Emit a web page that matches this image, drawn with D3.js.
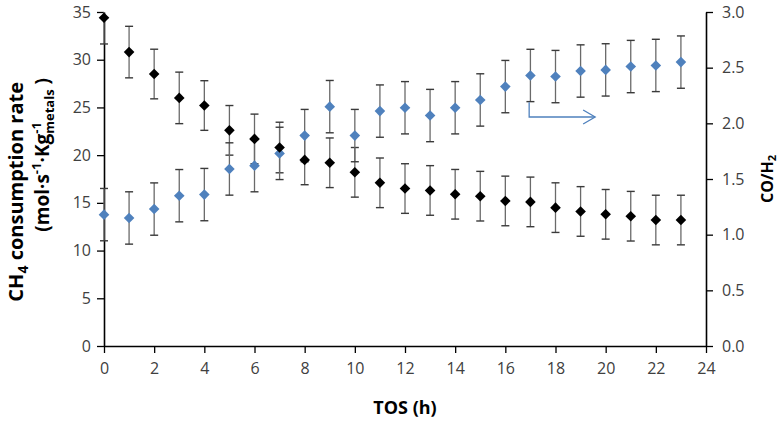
<!DOCTYPE html>
<html>
<head>
<meta charset="utf-8">
<script src="https://cdn.jsdelivr.net/npm/d3@7"></script>
<style>
  html, body { margin: 0; padding: 0; background: #fff; }
  svg { display: block; }
</style>
</head>
<body>
<svg id="chart" width="782" height="425"></svg>
<script>
// ---- data ----
const hours = [0,1,2,3,4,5,6,7,8,9,10,11,12,13,14,15,16,17,18,19,20,21,22,23];
const ch4Rate = [34.4,30.8,28.5,26.0,25.2,22.6,21.7,20.8,19.5,19.2,18.2,17.1,16.5,16.3,15.9,15.7,15.2,15.1,14.5,14.1,13.8,13.6,13.2,13.2];
const ch4Err  = [2.75,2.7,2.6,2.7,2.6,2.6,2.6,2.65,2.6,2.6,2.6,2.6,2.6,2.6,2.6,2.6,2.6,2.6,2.6,2.6,2.6,2.6,2.6,2.6];
const coH2    = [1.18,1.15,1.23,1.35,1.36,1.59,1.62,1.73,1.89,2.15,1.89,2.11,2.14,2.07,2.14,2.21,2.33,2.43,2.42,2.47,2.48,2.51,2.52,2.55];
const coH2Err = [0.235,0.235,0.235,0.235,0.235,0.235,0.235,0.235,0.235,0.235,0.235,0.235,0.235,0.235,0.235,0.235,0.235,0.235,0.235,0.235,0.235,0.235,0.235,0.235];
const xTicks = [0,2,4,6,8,10,12,14,16,18,20,22,24];
const yLeftTicks = [0,5,10,15,20,25,30,35];
const yRightTicks = [0,0.5,1.0,1.5,2.0,2.5,3.0];
// arrow annotation (points to right axis), in data units: [hour, CO/H2]
const arrowPath = [[16.95, 2.19], [16.95, 2.057], [19.58, 2.057]];

// ---- layout ----
const W = 782, H = 425;
const m = { left: 104, right: 76, top: 12, bottom: 79 };
const svg = d3.select("#chart");
const FONT = "'Open Sans', 'Liberation Sans', sans-serif";

const x = d3.scaleLinear().domain([0, 24]).range([m.left, W - m.right]);
const yL = d3.scaleLinear().domain([0, 35]).range([H - m.bottom, m.top]);
const yR = d3.scaleLinear().domain([0, 3]).range([H - m.bottom, m.top]);

// ---- axes ----
function styleAxis(g) {
  g.selectAll("path.domain").attr("stroke", "#000").attr("stroke-width", 1.6);
  g.selectAll(".tick line").attr("stroke", "#000").attr("stroke-width", 1.3);
  g.selectAll(".tick text").attr("fill", "#404040").style("font-family", FONT).style("font-size", "16px");
}

const gx = svg.append("g").attr("transform", `translate(0,${H - m.bottom})`)
  .call(d3.axisBottom(x).tickValues(xTicks).tickSize(7).tickSizeOuter(0).tickPadding(10).tickFormat(d3.format("d")));
styleAxis(gx);

const gl = svg.append("g").attr("transform", `translate(${m.left},0)`)
  .call(d3.axisLeft(yL).tickValues(yLeftTicks).tickSize(7).tickSizeOuter(0).tickPadding(6).tickFormat(d3.format("d")));
styleAxis(gl);

const gr = svg.append("g").attr("transform", `translate(${W - m.right},0)`)
  .call(d3.axisRight(yR).tickValues(yRightTicks).tickSize(7).tickSizeOuter(0).tickPadding(9).tickFormat(d3.format(".1f")));
styleAxis(gr);

// ---- error bars ----
const capW = 4;
function errorBars(values, errs, scale, cls) {
  const [d0, d1] = scale.domain();
  const g = svg.append("g").attr("class", cls);
  const items = hours.map((h, i) => ({ h, lo: Math.max(d0, values[i] - errs[i]), hi: Math.min(d1, values[i] + errs[i]),
                                      loClip: values[i] - errs[i] < d0, hiClip: values[i] + errs[i] > d1 }));
  g.selectAll("line.v").data(items).join("line").attr("class", "v")
    .attr("x1", d => x(d.h)).attr("x2", d => x(d.h))
    .attr("y1", d => scale(d.lo)).attr("y2", d => scale(d.hi))
    .attr("stroke", "#6a6a6a").attr("stroke-width", 1.3);
  g.selectAll("line.cl").data(items.filter(d => !d.loClip)).join("line").attr("class", "cl")
    .attr("x1", d => x(d.h) - capW).attr("x2", d => x(d.h) + capW)
    .attr("y1", d => scale(d.lo)).attr("y2", d => scale(d.lo))
    .attr("stroke", "#3a3a3a").attr("stroke-width", 1.4);
  g.selectAll("line.ch").data(items.filter(d => !d.hiClip)).join("line").attr("class", "ch")
    .attr("x1", d => x(d.h) - capW).attr("x2", d => x(d.h) + capW)
    .attr("y1", d => scale(d.hi)).attr("y2", d => scale(d.hi))
    .attr("stroke", "#3a3a3a").attr("stroke-width", 1.4);
}
errorBars(ch4Rate, ch4Err, yL, "err-ch4");
errorBars(coH2, coH2Err, yR, "err-co");

// ---- markers ----
function diamond(r) { return `M0,${-r}L${r},0L0,${r}L${-r},0Z`; }
svg.append("g").selectAll("path").data(hours).join("path")
  .attr("d", diamond(5.3))
  .attr("transform", (h, i) => `translate(${x(h)},${yR(coH2[i])})`)
  .attr("fill", "#4f81bd");
svg.append("g").selectAll("path").data(hours).join("path")
  .attr("d", diamond(5.3))
  .attr("transform", (h, i) => `translate(${x(h)},${yL(ch4Rate[i])})`)
  .attr("fill", "#000");

// ---- arrow ----
const arrowLine = d3.line().x(d => x(d[0])).y(d => yR(d[1]));
svg.append("path").attr("d", arrowLine(arrowPath)).attr("fill", "none")
  .attr("stroke", "#4f81bd").attr("stroke-width", 1.3);
const tip = arrowPath[arrowPath.length - 1];
const tx = x(tip[0]), ty = yR(tip[1]);
svg.append("path").attr("d", `M${tx - 12},${ty - 7}L${tx},${ty}L${tx - 12},${ty + 7}`)
  .attr("fill", "none").attr("stroke", "#4f81bd").attr("stroke-width", 1.3);

// ---- titles ----
svg.append("text").attr("x", (m.left + W - m.right) / 2).attr("y", 414)
  .attr("text-anchor", "middle").style("font-family", FONT).style("font-weight", "bold").style("font-size", "18px")
  .attr("fill", "#000").text("TOS (h)");

// right title
const rt = svg.append("text").attr("transform", `translate(773,${(m.top + H - m.bottom) / 2}) rotate(-90)`)
  .attr("text-anchor", "middle").style("font-family", FONT).style("font-weight", "bold").style("font-size", "16px");
rt.append("tspan").text("CO/H");
rt.append("tspan").attr("dy", 3).style("font-size", "11px").text("2");

// left title line 1
const t1 = svg.append("text").attr("transform", `translate(23,82) rotate(-90)`)
  .attr("text-anchor", "end").style("font-family", FONT).style("font-weight", "bold").style("font-size", "20px");
t1.append("tspan").text("CH");
t1.append("tspan").attr("dy", 5).style("font-size", "14px").text("4");
t1.append("tspan").attr("dy", -5).text(" consumption rate");

// left title line 2
const t2 = svg.append("text").attr("transform", `translate(49,78) rotate(-90)`)
  .attr("text-anchor", "end").style("font-family", FONT).style("font-weight", "bold").style("font-size", "19px");
t2.append("tspan").text("(mol·s");
t2.append("tspan").attr("dy", -8).style("font-size", "13px").text("-1");
t2.append("tspan").attr("dy", 8).text("·Kg");
const sup = t2.append("tspan").attr("dy", -8).style("font-size", "13px").text("-1");
const supW = sup.node().getComputedTextLength();
t2.append("tspan").attr("dy", 13).attr("dx", -supW).style("font-size", "13px").text("metals");
t2.append("tspan").attr("dy", -5).text(" )");
</script>
</body>
</html>
